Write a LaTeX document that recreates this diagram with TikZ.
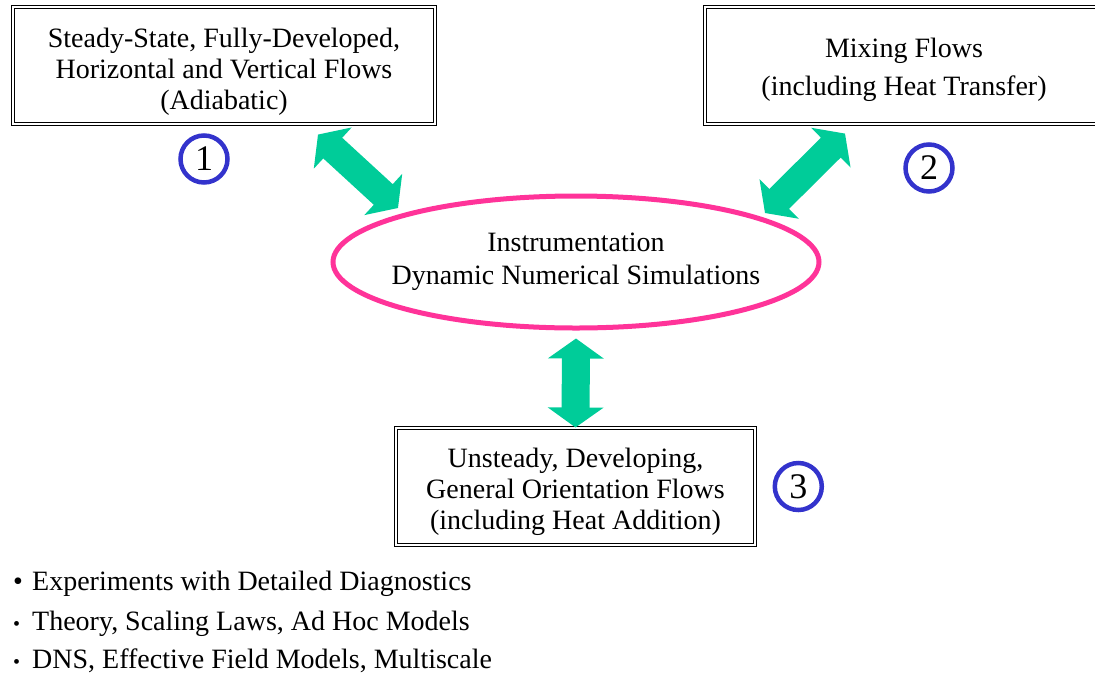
\documentclass[tikz,border=0pt]{standalone}
\usepackage{fontspec}
\setmainfont{Liberation Serif}
\usepackage{tikz}
\usetikzlibrary{shapes.geometric, arrows.meta, positioning}
\definecolor{arrowgreen}{RGB}{0,204,153}
\definecolor{simpink}{RGB}{255,51,153}
\definecolor{numblue}{RGB}{51,51,204}
\newcommand{\boxstrut}[1]{\rule{0pt}{#1}}
\tikzstyle{flowbox} = [rectangle, draw=black, double, double distance=2pt, line width=1.1pt, minimum height=117pt, align=center, font=\fontsize{28}{31}\selectfont]
\tikzstyle{simell} = [ellipse, draw=simpink, line width=5pt, minimum width=486pt, minimum height=132pt, inner xsep=-40pt, inner ysep=0pt, align=center, font=\fontsize{28}{33}\selectfont]
\tikzstyle{numcirc} = [circle, draw=numblue, line width=4.5pt, minimum size=47pt, inner sep=0pt, font=\fontsize{36}{36}\selectfont]
\tikzstyle{biarrow} = [draw=arrowgreen, line width=28pt, {Triangle[width=55pt,length=20pt]}-{Triangle[width=55pt,length=20pt]}]
\tikzstyle{bullettext} = [anchor=base west, inner sep=0pt, font=\fontsize{28}{31}\selectfont]

\begin{document}
\begin{tikzpicture}[x=1pt, y=-1pt]
    \useasboundingbox (0,0) rectangle (1095,673);
    % Nodes
    \node [flowbox, minimum width=422pt] (steady) at (224,65.5) {\boxstrut{31pt}Steady-State, Fully-Developed,\\ Horizontal and Vertical Flows\\ (Adiabatic)};
    \node [flowbox, minimum width=398pt] (mixing) at (904,65.5) {\boxstrut{28pt}Mixing Flows\\[7pt] (including Heat Transfer)};
    \node [simell] (sim) at (576,262) {Instrumentation\\ Dynamic Numerical Simulations};
    \node [flowbox, minimum width=359pt] (unsteady) at (575.5,486.5) {\boxstrut{31pt}Unsteady, Developing,\\ General Orientation Flows\\ (including Heat Addition)};
    \node [numcirc] (one) at (204,159) {1};
    \node [numcirc] (two) at (929,168) {2};
    \node [numcirc, right=17pt of unsteady] (three) {3};

    % Bullet list
    \node [bullettext] (experiments) at (13,590) {\makebox[19pt][l]{•}Experiments with Detailed Diagnostics};
    \node [bullettext] (theory) at (13,630) {\makebox[19pt][l]{\fontsize{20}{20}\selectfont •}Theory, Scaling Laws, Ad Hoc Models};
    \node [bullettext] (dns) at (13,668) {\makebox[19pt][l]{\fontsize{20}{20}\selectfont •}DNS, Effective Field Models, Multiscale};

    % Edges
    \path [biarrow] ([xshift=94pt,yshift=-10pt]steady.south) -- ([xshift=-178pt,yshift=54pt]sim.center);
    \path [biarrow] ([xshift=-59pt,yshift=-9pt]mixing.south) -- ([xshift=189pt,yshift=49pt]sim.center);
    \path [biarrow] ([yshift=-8pt]sim.south) -- (unsteady.north);
\end{tikzpicture}
\end{document}
